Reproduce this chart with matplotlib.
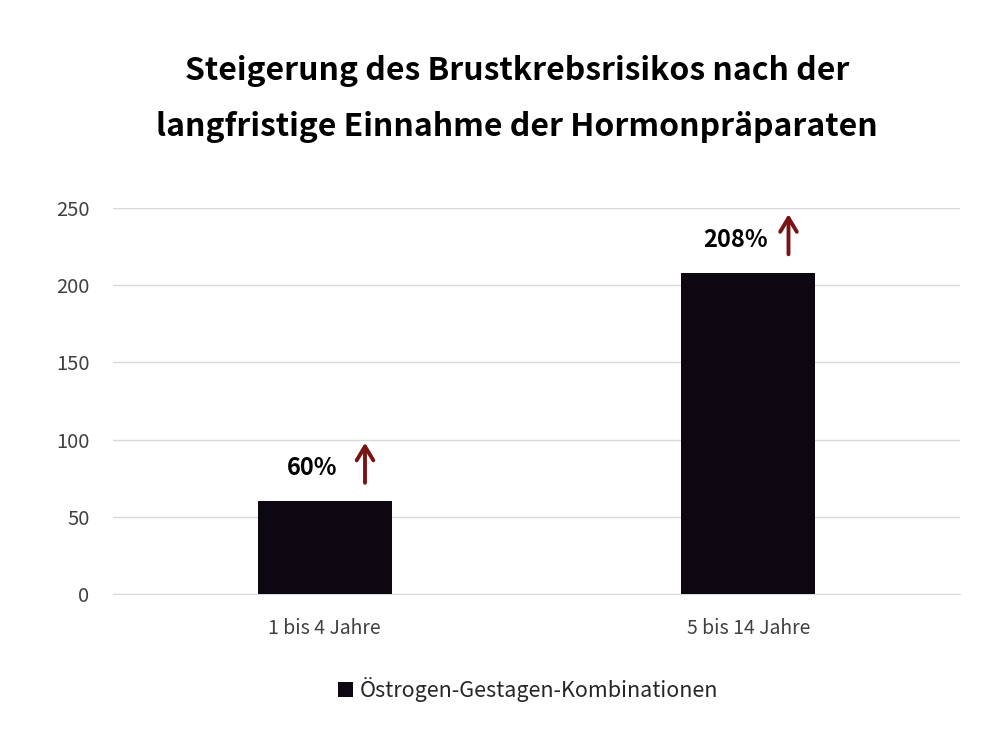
import matplotlib
matplotlib.use("Agg")
import matplotlib.pyplot as plt

plt.rcParams['font.family'] = ['Noto Sans CJK KR', 'DejaVu Sans']

categories = ["1 bis 4 Jahre", "5 bis 14 Jahre"]
values = [60, 208]
labels = ["60%", "208%"]
series_name = "Östrogen-Gestagen-Kombinationen"
yticks = [0, 50, 100, 150, 200, 250]
title = "Steigerung des Brustkrebsrisikos nach der\nlangfristige Einnahme der Hormonpräparaten"

fig = plt.figure(figsize=(9.94, 7.38), dpi=100)
ax = fig.add_axes([0.1137, 0.1951, 0.8521, 0.5231])

x = list(range(len(categories)))
ax.bar(x, values, width=0.316, color="#0c0710", label=series_name, zorder=3)
ax.set_xlim(-0.5, len(categories) - 0.5)
ax.set_ylim(0, 250)
ax.set_yticks(yticks)
ax.set_xticks(x)
ax.set_xticklabels(categories)
ax.grid(axis='y', color="#d9d9d9", linewidth=1, zorder=0)
for s in ['left', 'right', 'top']:
    ax.spines[s].set_visible(False)
ax.spines['bottom'].set_color("#d9d9d9")
ax.tick_params(axis='y', length=0, labelsize=14.5, colors="#404040", pad=17)
ax.tick_params(axis='x', length=0, labelsize=14, colors="#404040", pad=17)

for xi, v, lab in zip(x, values, labels):
    ax.text(xi - 0.03, v + 21.5, lab, ha='center', va='center', fontsize=17,
            fontweight='bold', color='black')
    ax.annotate("", xy=(xi + 0.095, v + 38), xytext=(xi + 0.095, v + 12),
                arrowprops=dict(arrowstyle='->,head_length=0.5,head_width=0.3',
                                color="#7a1414", lw=2.8,
                                mutation_scale=20, shrinkA=0, shrinkB=0))

fig.text(0.52, 0.866, title, ha='center', va='center', fontsize=23,
         fontweight='bold', linespacing=1.95)

leg = ax.legend(loc='upper center', bbox_to_anchor=(0.49, -0.165), frameon=False,
                fontsize=15.5, handlelength=0.7, handleheight=0.7, handletextpad=0.3)
for t in leg.get_texts():
    t.set_color("#262626")

fig.savefig("out.png", dpi=100)
